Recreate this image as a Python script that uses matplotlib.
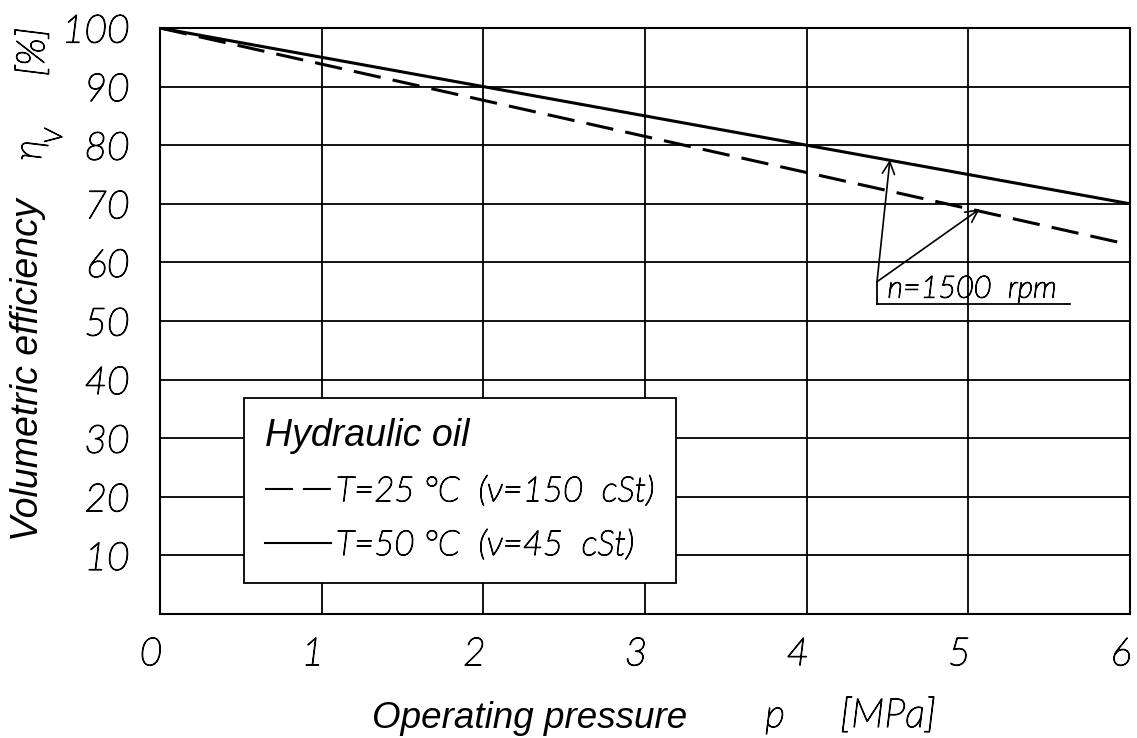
import matplotlib
matplotlib.use('Agg')
import matplotlib.pyplot as plt
import matplotlib.patheffects as pe
from matplotlib.transforms import ScaledTranslation

# Data
pressure = [0, 6]
eff_25 = [100, 63]   # T=25 °C, dashed
eff_50 = [100, 70]   # T=50 °C, solid
x_ticks = [0, 1, 2, 3, 4, 5, 6]
y_ticks = [10, 20, 30, 40, 50, 60, 70, 80, 90, 100]
legend_labels = ['T=25 °C  (ν=150  cSt)', 'T=50 °C  (ν=45  cSt)']

# thin "technical" lettering: light italic with a thin black stroke
stroke = [pe.withStroke(linewidth=0.9, foreground='black')]
thin = dict(family=['Lato', 'DejaVu Sans'], weight='light', style='italic', color='black')
bold = dict(family='Liberation Sans', style='italic')

fig = plt.figure(figsize=(11.37, 7.38), dpi=100)
ax = fig.add_axes([160 / 1137, 1 - 614 / 738, 970 / 1137, 586 / 738])

l25, = ax.plot(pressure, eff_25, color='black', lw=2.2, dashes=(9, 4))
l50, = ax.plot(pressure, eff_50, color='black', lw=2.2)

ax.set_xlim(0, 6)
ax.set_ylim(0, 100)
ax.set_xticks(x_ticks)
ax.set_yticks(y_ticks)
ax.set_xticklabels([str(v) for v in x_ticks], fontsize=28, **thin)
ax.set_yticklabels([str(v) for v in y_ticks], fontsize=28, **thin)
ax.tick_params(length=0, pad=22)
ax.tick_params(axis='x', pad=16)
shift = ScaledTranslation(-9 / 100, 0, fig.dpi_scale_trans)
for t in ax.get_xticklabels():
    t.set_transform(t.get_transform() + shift)
for t in ax.get_xticklabels() + ax.get_yticklabels():
    t.set_path_effects(stroke)
ax.grid(color='black', lw=1.3)
for s in ax.spines.values():
    s.set_linewidth(1.5)

# axis labels built from pieces
fig.text(28 / 1137, 1 - 370 / 738, 'Volumetric efficiency', rotation=90,
         ha='center', va='center', fontsize=27, **bold)
fig.text(30 / 1137, 1 - 150 / 738, 'η', rotation=90,
         ha='center', va='center', fontsize=28, path_effects=stroke, **thin)
fig.text(55 / 1137, 1 - 136 / 738, 'V', rotation=90,
         ha='center', va='center', fontsize=18, path_effects=stroke, **thin)
fig.text(33 / 1137, 1 - 52 / 738, '[%]', rotation=90,
         ha='center', va='center', fontsize=28, path_effects=stroke, **thin)
fig.text(530 / 1137, 1 - 718 / 738, 'Operating pressure',
         ha='center', va='center', fontsize=26.5, **bold)
fig.text(775 / 1137, 1 - 716 / 738, 'p', ha='center', va='center', fontsize=28,
         path_effects=stroke, **thin)
fig.text(888 / 1137, 1 - 716 / 738, '[MPa]', ha='center', va='center', fontsize=29,
         path_effects=stroke, **thin)

# legend box
leg = ax.legend([l25, l50], legend_labels, loc='lower left',
                bbox_to_anchor=(0.0866, 0.053), borderaxespad=0, title='Hydraulic oil',
                prop=dict(size=25, family=['Lato', 'DejaVu Sans'], weight='light',
                          style='italic'),
                frameon=True, fancybox=False,
                edgecolor='black', framealpha=1, handlelength=1.9,
                handletextpad=0.15, borderpad=0.6, labelspacing=0.6,
                alignment='left')
leg.get_title().set_fontsize(27)
leg.get_title().set_style('italic')
leg.get_title().set_family('Liberation Sans')
leg.get_frame().set_linewidth(1.3)
for t in leg.get_texts():
    t.set_path_effects(stroke)
for h in leg.get_lines():
    h.set_linewidth(1.5)
leg.get_lines()[0].set_dashes((13.4, 4.8))

# n=1500 rpm annotation with leader lines
ax.text(4.50, 54.0, 'n=1500  rpm', fontsize=22, path_effects=stroke, **thin)
ax.plot([4.435, 5.63], [52.9, 52.9], color='black', lw=1.3)
for tip in [(4.515, 77.5), (5.07, 69.1)]:
    ax.annotate('', xy=tip, xytext=(4.435, 56.7),
                arrowprops=dict(arrowstyle='->', color='black', lw=1.2, shrinkA=0, shrinkB=0,
                                mutation_scale=22))
ax.plot([4.435, 4.435], [52.9, 56.7], color='black', lw=1.3)

fig.savefig('out.png', dpi=100)
